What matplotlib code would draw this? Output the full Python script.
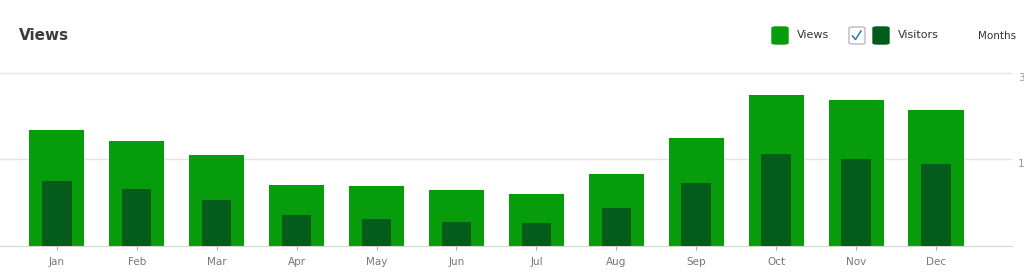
import matplotlib.pyplot as plt
import matplotlib.transforms as mtransforms
from matplotlib.patches import FancyBboxPatch

# data
months = ["Jan", "Feb", "Mar", "Apr", "May", "Jun", "Jul", "Aug", "Sep", "Oct", "Nov", "Dec"]
views = [201, 182, 158, 106, 104, 97, 90, 125, 187, 262, 253, 236]
visitors = [113, 99, 80, 54, 47, 42, 40, 66, 109, 160, 151, 142]
y_ticks = [150, 300]
y_tick_labels = ["150", "300"]

views_color = "#079c0b"
visitors_color = "#045c1c"
W, H = 1024, 275

fig = plt.figure(figsize=(W / 100, H / 100), dpi=100)
ax = fig.add_axes([0, 1 - 246 / H, 1012 / W, 175.9 / H])

x = range(len(months))
ax.bar(x, views, width=0.69, color=views_color, zorder=2)
ax.bar(x, visitors, width=0.37, color=visitors_color, zorder=3)

ax.set_xlim(-0.71, 11.95)
ax.set_ylim(0, 305)

for s in ["top", "right", "left"]:
    ax.spines[s].set_visible(False)
ax.spines["bottom"].set_color("#d6d6d6")
ax.set_yticks(y_ticks)
ax.yaxis.grid(True, color="#e4e4e4", linewidth=1, zorder=0)
ax.tick_params(axis="y", left=False, labelleft=False)
ax.set_xticks(list(x))
ax.set_xticklabels(months)
ax.tick_params(axis="x", length=3, color="#aaaaaa", labelsize=7.5, labelcolor="#777777", pad=5)

# right side labels, cut off by the figure edge like in the original
trans = mtransforms.blended_transform_factory(fig.transFigure, ax.transData)
for v, lab in zip(y_ticks, y_tick_labels):
    ax.text(1018 / W, v, lab, transform=trans, fontsize=7.5, color="#999999",
            va="top", ha="left", clip_on=False)

# title
fig.text(19 / W, 1 - 36 / H, "Views", fontsize=11, fontweight="bold", color="#3c3c3c", va="center")

# legend
def square(px, color, face=None, edge=None):
    p = FancyBboxPatch((px / W, 1 - 44 / H), 16 / W, 17 / H,
                       boxstyle="round,pad=0,rounding_size=0.004",
                       transform=fig.transFigure, facecolor=face or color,
                       edgecolor=edge or color, linewidth=1)
    fig.patches.append(p)

square(772, views_color)
fig.text(797 / W, 1 - 35 / H, "Views", fontsize=8, color="#333333", va="center")
square(849, None, face="white", edge="#bbbbbb")
fig.lines.append(plt.Line2D([852.5 / W, 855.5 / W, 861 / W],
                            [1 - 36 / H, 1 - 39.5 / H, 1 - 31 / H],
                            transform=fig.transFigure, color="#2a7ab8", linewidth=1.1))
square(873, visitors_color)
fig.text(898 / W, 1 - 35 / H, "Visitors", fontsize=8, color="#333333", va="center")
fig.text(978 / W, 1 - 36 / H, "Months", fontsize=7.5, color="#333333", va="center")

fig.savefig("out.png", dpi=100)
